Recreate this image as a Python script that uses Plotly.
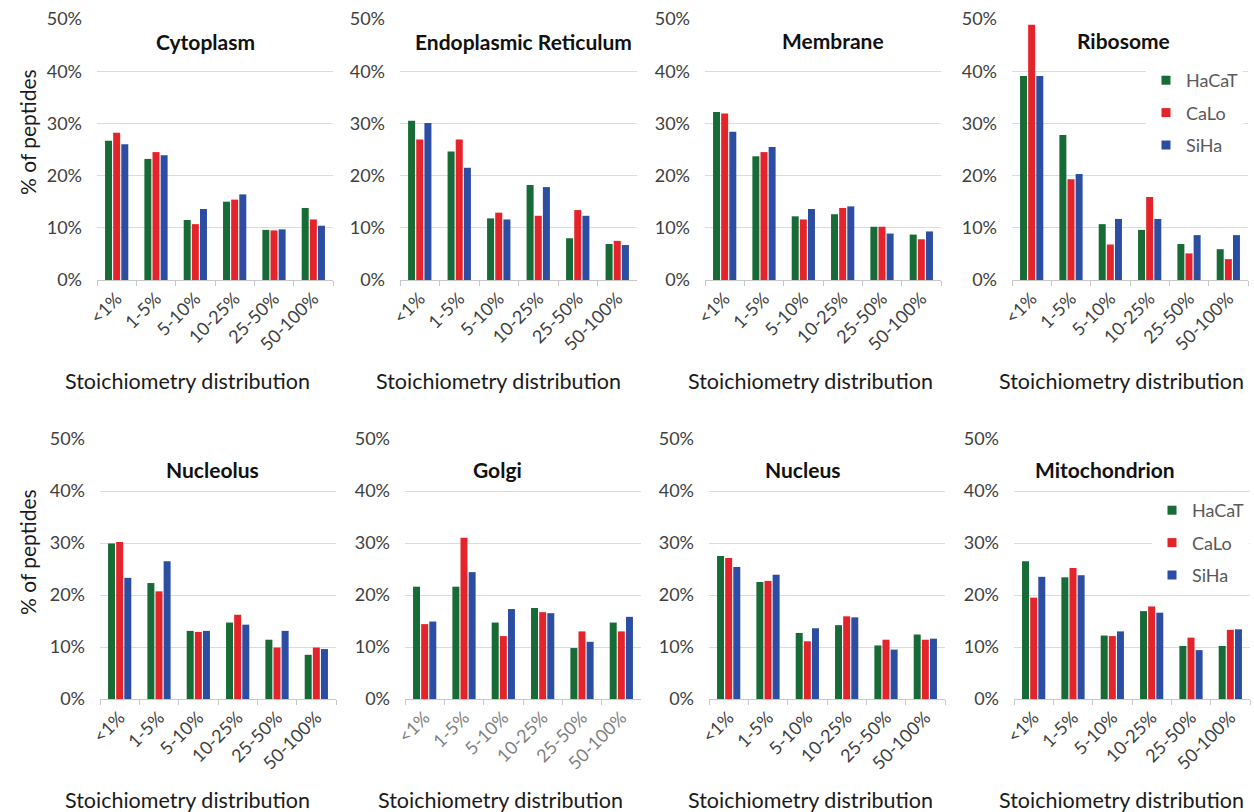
import plotly.graph_objects as go

# Stoichiometry bins and cellular compartments
categories = ["<1%", "1-5%", "5-10%", "10-25%", "25-50%", "50-100%"]
compartments = ["Cytoplasm", "Endoplasmic Reticulum", "Membrane", "Ribosome",
                "Nucleolus", "Golgi", "Nucleus", "Mitochondrion"]
series_names = ["HaCaT", "CaLo", "SiHa"]

# % of peptides per bin, one list per compartment (same order as compartments)
hacat = [
    [26.7, 23.2, 11.5, 15.0, 9.6, 13.8],
    [30.5, 24.6, 11.8, 18.2, 8.0, 6.9],
    [32.2, 23.7, 12.2, 12.6, 10.2, 8.7],
    [39.1, 27.8, 10.7, 9.6, 6.9, 5.9],
    [29.9, 22.3, 13.1, 14.7, 11.4, 8.5],
    [21.6, 21.6, 14.7, 17.5, 9.8, 14.7],
    [27.5, 22.5, 12.7, 14.2, 10.3, 12.4],
    [26.5, 23.4, 12.2, 16.9, 10.2, 10.2],
]
calo = [
    [28.2, 24.5, 10.7, 15.4, 9.5, 11.6],
    [26.9, 26.9, 12.9, 12.3, 13.4, 7.5],
    [31.9, 24.5, 11.6, 13.8, 10.2, 7.8],
    [48.9, 19.3, 6.8, 15.9, 5.1, 4.0],
    [30.2, 20.7, 12.9, 16.2, 9.9, 9.9],
    [14.4, 31.0, 12.1, 16.7, 13.0, 13.0],
    [27.1, 22.7, 11.1, 15.9, 11.4, 11.4],
    [19.5, 25.2, 12.1, 17.8, 11.8, 13.3],
]
siha = [
    [26.0, 23.9, 13.6, 16.4, 9.7, 10.4],
    [30.1, 21.5, 11.6, 17.8, 12.3, 6.7],
    [28.4, 25.5, 13.6, 14.1, 8.9, 9.3],
    [39.1, 20.3, 11.7, 11.7, 8.6, 8.6],
    [23.3, 26.5, 13.1, 14.3, 13.1, 9.6],
    [14.9, 24.4, 17.3, 16.5, 11.0, 15.8],
    [25.4, 23.9, 13.6, 15.7, 9.5, 11.6],
    [23.5, 23.8, 13.0, 16.6, 9.4, 13.4],
]
y_ticks = [0, 10, 20, 30, 40, 50]
y_tick_labels = ["0%", "10%", "20%", "30%", "40%", "50%"]

W, H = 1254, 812
colors = ["#176b36", "#e5232b", "#2c4ea2"]
FONT = "Lato"


def px(x):
    return x / W


def py(y):
    return 1 - y / H


# plot-area pixel boxes: (left, right, top(50%), bottom(0%))
boxes = [
    (97, 333, 19, 280), (400, 637, 19, 280), (705, 941, 19, 280), (1012, 1248, 19, 280),
    (100, 336, 439, 699), (405, 641, 439, 699), (709, 945, 439, 699), (1014, 1250, 439, 699),
]
title_pos = [(205, 42), (523, 42), (833, 41), (1123, 41),
             (212, 469), (497, 469), (802, 469), (1105, 469)]
xtitle_x = [187, 498, 810, 1121, 188, 500, 810, 1121]

fig = go.Figure()
layout = {}
annotations = []

for i, name in enumerate(compartments):
    n = i + 1
    xa = "x" if n == 1 else f"x{n}"
    ya = "y" if n == 1 else f"y{n}"
    for values, sname, col in zip((hacat[i], calo[i], siha[i]), series_names, colors):
        fig.add_trace(go.Bar(
            x=categories, y=values, name=sname, marker_color=col,
            marker_line_width=0, xaxis=xa, yaxis=ya, showlegend=False,
            offsetgroup=sname,
        ))
    l, r, t, b = boxes[i]
    tick_col = "#808080" if name == "Golgi" else "#404040"
    layout[f"xaxis{n if n > 1 else ''}"] = dict(
        domain=[px(l), px(r)], anchor=ya, tickangle=-45,
        showline=True, linecolor="#c8c8c8", linewidth=1,
        ticks="outside", tickson="boundaries", ticklen=5, tickcolor="#c8c8c8",
        tickfont=dict(family=FONT, size=18, color=tick_col),
        showgrid=False, fixedrange=True,
    )
    layout[f"yaxis{n if n > 1 else ''}"] = dict(
        domain=[py(b), py(t)], anchor=xa, range=[0, 50],
        tickmode="array", tickvals=y_ticks, ticktext=y_tick_labels,
        ticklabelstandoff=14,
        tickfont=dict(family=FONT, size=18, color="#404040"),
        showgrid=True, gridcolor="#dcdcdc", gridwidth=1,
        zeroline=False, showline=False, ticks="", fixedrange=True,
    )
    tx, ty = title_pos[i]
    annotations.append(dict(
        text=f"<b>{name}</b>", x=px(tx), y=py(ty), xref="paper", yref="paper",
        showarrow=False, xanchor="center", yanchor="middle",
        font=dict(family=FONT, size=21, color="#111111"),
    ))
    annotations.append(dict(
        text="Stoichiometry distribution", x=px(xtitle_x[i]),
        y=py(381 if i < 4 else 800), xref="paper", yref="paper",
        showarrow=False, xanchor="center", yanchor="middle",
        font=dict(family=FONT, size=21.5, color="#1a1a1a"),
    ))

for cy in (132, 552):
    annotations.append(dict(
        text="% of peptides", x=px(27), y=py(cy), xref="paper", yref="paper",
        showarrow=False, textangle=-90, xanchor="center", yanchor="middle",
        font=dict(family=FONT, size=21, color="#1a1a1a"),
    ))

# legend entries for the Ribosome and Mitochondrion panels
for leg, (xa, ya) in (("legend", ("x4", "y4")), ("legend2", ("x8", "y8"))):
    for sname, col in zip(series_names, colors):
        fig.add_trace(go.Scatter(
            x=[None], y=[None], mode="markers", name=sname,
            marker=dict(symbol="square", size=9, color=col),
            xaxis=xa, yaxis=ya, legend=leg, legendgroup=leg + sname,
            showlegend=True,
        ))

legend_style = dict(
    bgcolor="white", borderwidth=0, xanchor="left", yanchor="top",
    font=dict(family=FONT, size=18, color="#595959"),
    tracegroupgap=6, itemwidth=30,
)

fig.update_layout(
    width=W, height=H,
    margin=dict(l=0, r=0, t=0, b=0, autoexpand=False),
    paper_bgcolor="white", plot_bgcolor="white",
    barmode="group", bargap=0.38, bargroupgap=0.14,
    font=dict(family=FONT),
    annotations=annotations,
    legend=dict(x=px(1146), y=py(62), **legend_style),
    legend2=dict(x=px(1152), y=py(492), **legend_style),
    **layout,
)

fig.write_html("out.html")
